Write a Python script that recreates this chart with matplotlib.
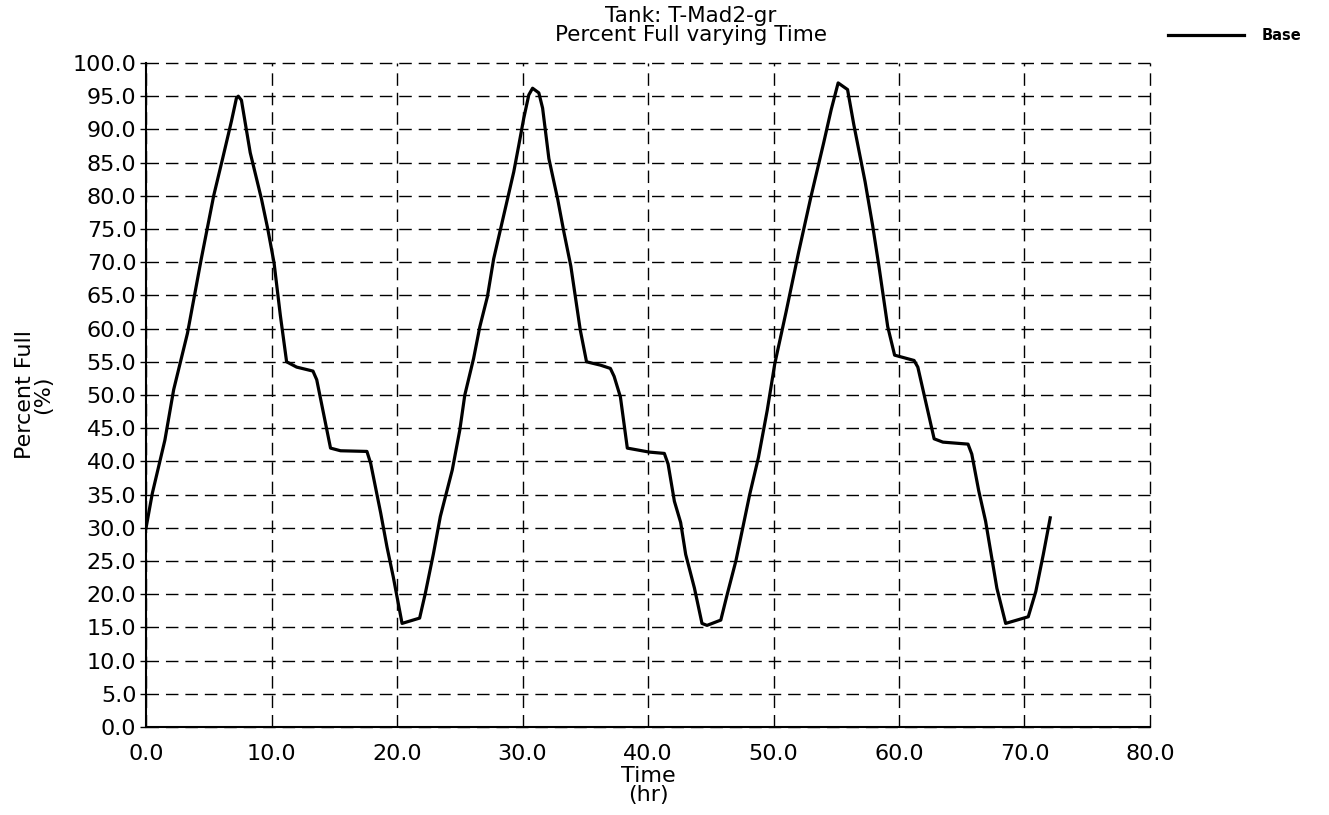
import matplotlib
matplotlib.use("Agg")
import matplotlib.pyplot as plt

# tank level trace for T-Mad2-gr, base scenario
time_hr = [0.0, 0.5, 1.5, 2.2, 3.3, 4.4, 5.4, 6.1, 6.8, 7.2, 7.35, 7.6,
           8.3, 9.2, 9.7, 10.2, 10.7, 11.2, 12.0, 13.3, 13.6, 14.7, 15.5,
           17.6, 17.9, 18.7, 19.2, 19.7, 20.4, 21.8, 22.25, 22.9, 23.45,
           24.4, 25.0, 25.4, 26.1, 26.6, 27.2, 27.7, 28.8, 29.3, 29.7,
           30.1, 30.5, 30.8, 31.3, 31.6, 32.1, 32.8, 33.3, 33.85, 34.6,
           35.1, 36.2, 37.0, 37.3, 37.8, 38.35, 40.1, 41.3, 41.6, 42.1,
           42.6, 43.0, 43.7, 44.3, 44.7, 45.8, 46.3, 47.0, 47.55, 48.1,
           48.8, 49.5, 50.1, 51.0, 52.0, 53.0, 54.0, 54.6,
           55.15, 55.9, 56.4, 57.3, 57.9, 58.4, 59.1, 59.65, 61.2, 61.5,
           62.8, 63.5, 65.5, 65.8, 66.35, 66.9, 67.8, 68.5, 70.3, 70.9,
           71.5, 72.05]
pct_full = [30.0, 35.2, 43.2, 50.8, 59.3, 70.5, 80.1, 85.6, 91.2, 94.7, 95.0, 94.4,
            86.5, 79.5, 75.0, 69.9, 62.0, 55.0, 54.2, 53.6, 52.3, 42.0, 41.6,
            41.5, 39.7, 32.2, 27.1, 22.6, 15.6, 16.4, 20.1, 26.1, 31.7,
            38.7, 44.7, 50.0, 55.5, 60.3, 64.8, 70.5, 79.5, 83.6, 87.6,
            91.7, 95.2, 96.2, 95.5, 93.2, 85.6, 79.5, 74.5, 69.4, 59.8,
            55.0, 54.5, 54.0, 52.8, 49.7, 42.0, 41.4, 41.2, 39.6, 34.0,
            30.8, 26.0, 20.9, 15.6, 15.3, 16.1, 19.9, 25.0, 30.0, 35.0,
            40.6, 47.7, 54.7, 62.5, 71.5, 80.0, 88.0, 93.0,
            97.0, 96.0, 90.7, 82.1, 75.5, 69.4, 60.3, 56.0, 55.2, 54.2,
            43.4, 42.9, 42.6, 41.1, 35.6, 31.0, 20.9, 15.6, 16.6, 20.4,
            26.0, 31.5]

x_ticks = [0, 10, 20, 30, 40, 50, 60, 70, 80]
y_ticks = list(range(0, 101, 5))

plt.rcParams['font.family'] = ['DejaVu Sans']

fig = plt.figure(figsize=(13.29, 8.15), dpi=100)
ax = fig.add_axes([0.1099, 0.108, 0.7554, 0.8147])

ax.plot(time_hr, pct_full, color='black', lw=2.3, label='Base', zorder=3)

ax.set_xlim(0, 80)
ax.set_ylim(0, 100)
ax.set_xticks(x_ticks)
ax.set_yticks(y_ticks)
ax.set_xticklabels(['%.1f' % v for v in x_ticks])
ax.set_yticklabels(['%.1f' % v for v in y_ticks])
ax.tick_params(axis='x', length=0, pad=12, labelsize=16)
ax.tick_params(axis='y', length=4, width=1, pad=3, labelsize=16)

ax.grid(True, color='black', lw=1.0, linestyle=(0, (9, 5)))
for side in ['top', 'right']:
    ax.spines[side].set_visible(False)
for side in ['left', 'bottom']:
    ax.spines[side].set_linewidth(1.5)
for gl in ax.get_xgridlines() + ax.get_ygridlines():
    gl.set_clip_on(False)

ax.set_xlabel('Time\n(hr)', fontsize=16, linespacing=0.9, labelpad=2)
ax.set_ylabel('Percent Full\n(%)', fontsize=16, linespacing=0.9, labelpad=14)

fig.text(0.52, 0.993, 'Tank: T-Mad2-gr\nPercent Full varying Time',
         ha='center', va='top', fontsize=15.5, linespacing=0.95)

ax.legend(loc='center left', bbox_to_anchor=(0.879, 0.956),
          bbox_transform=fig.transFigure, frameon=False, borderpad=0,
          borderaxespad=0, handlelength=5.2, handletextpad=1.2,
          prop={'size': 10.5, 'weight': 'bold'})

fig.savefig('out.png', dpi=100)
